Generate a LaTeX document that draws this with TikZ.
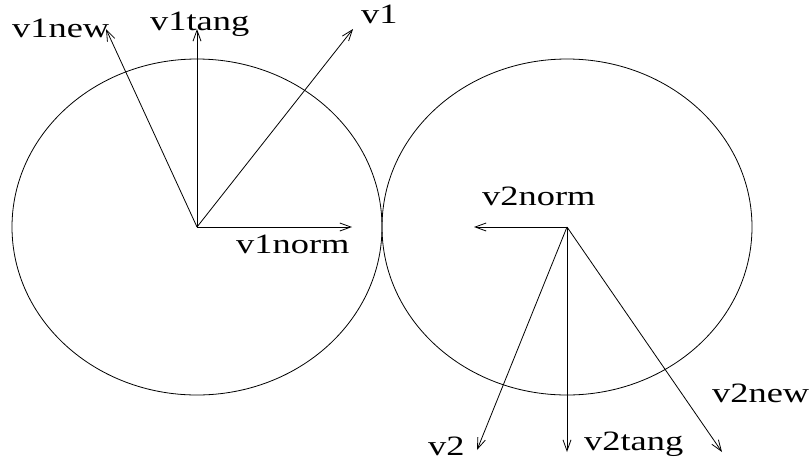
\documentclass[tikz,border=0pt]{standalone}
\usepackage{fontspec}
\usepackage{graphicx}
\setmainfont{Liberation Serif}
\usetikzlibrary{arrows.meta}
\begin{document}
\begin{tikzpicture}[x=1pt,y=-1pt,
  vec/.style={line width=0.8pt,-{Straight Barb[length=11pt,width=8pt,line width=0.8pt]}},
  lbl/.style={anchor=base west,inner sep=0pt,font=\fontsize{28}{32}\selectfont},
  ring/.style={line width=0.8pt}]
\useasboundingbox (0,0) rectangle (811,461);
\coordinate (c1) at (197,227);
\coordinate (c2) at (567,227);
\draw[ring] (c1) ellipse [x radius=185, y radius=168];
\draw[ring] (c2) ellipse [x radius=185, y radius=168];
\coordinate (t1new) at (106,29);
\coordinate (t1tang) at (197,29);
\coordinate (t1) at (353,29);
\coordinate (t1norm) at (352,227);
\coordinate (t2norm) at (474,227);
\coordinate (t2) at (477,450);
\coordinate (t2tang) at (567,452);
\coordinate (t2new) at (722,452);
\draw[vec] (c1) -- (t1new);
\draw[vec] (c1) -- (t1tang);
\draw[vec] (c1) -- (t1);
\draw[vec] (c1) -- (t1norm);
\draw[vec] (c2) -- (t2norm);
\draw[vec] (c2) -- (t2);
\draw[vec] (c2) -- (t2tang);
\draw[vec] (c2) -- (t2new);
\node[lbl] (l1new) at (12,37) {\scalebox{1.3}[1]{v1new}};
\node[lbl] (l1tang) at (150,30) {\scalebox{1.3}[1]{v1tang}};
\node[lbl] (l1) at (361,23) {\scalebox{1.3}[1]{v1}};
\node[lbl] (l1norm) at (236,253) {\scalebox{1.3}[1]{v1norm}};
\node[lbl] (l2norm) at (482,205) {\scalebox{1.3}[1]{v2norm}};
\node[lbl] (l2) at (428,455) {\scalebox{1.3}[1]{v2}};
\node[lbl] (l2tang) at (584,450) {\scalebox{1.3}[1]{v2tang}};
\node[lbl] (l2new) at (712,402) {\scalebox{1.3}[1]{v2new}};
\end{tikzpicture}
\end{document}
